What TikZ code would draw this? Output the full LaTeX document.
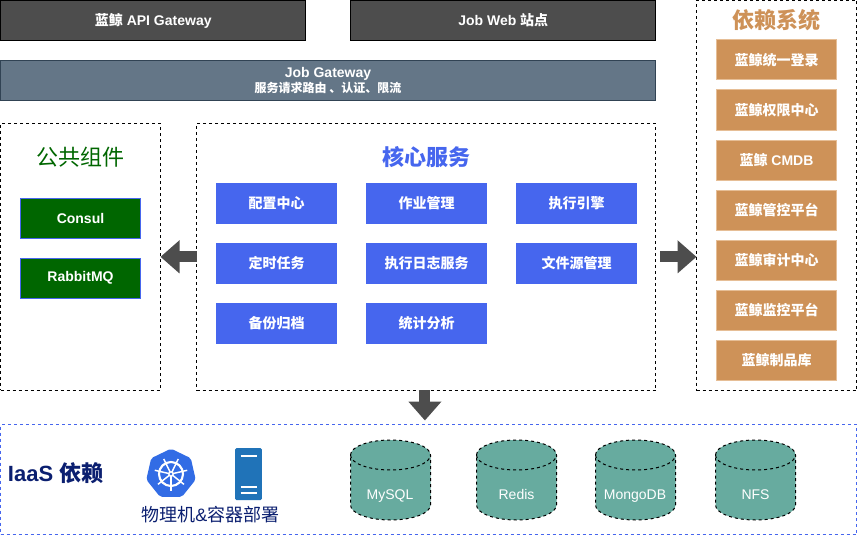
\documentclass[tikz,border=0pt]{standalone}
\usepackage{fontspec}
\setmainfont{Liberation Sans}
\newfontfamily\cjk{Noto Sans CJK SC}
\newcommand{\zh}[1]{{\cjk #1}}
\usetikzlibrary{positioning,shapes.geometric,arrows.meta}
\definecolor{darkbox}{HTML}{4D4D4D}
\definecolor{slatebox}{HTML}{647687}
\definecolor{slateline}{HTML}{314354}
\definecolor{corebox}{HTML}{4666EE}
\definecolor{greenbox}{HTML}{006600}
\definecolor{orangebox}{HTML}{CE9258}
\definecolor{orangeline}{HTML}{E6BE96}
\definecolor{dbbox}{HTML}{67AB9F}
\definecolor{navytext}{HTML}{0B1F70}
\definecolor{k8sblue}{HTML}{326CE5}
\definecolor{serverblue}{HTML}{2073B8}

\begin{document}
\begin{tikzpicture}
[
   x=0.75pt,
   y=-0.75pt,
   outer sep=0pt,
   align=center,
   every node/.style={font=\itemfont}
]
\newcommand{\itemfont}{\bfseries\fontsize{10.5}{12}\selectfont}

\tikzset{gateway/.style = {draw=black, fill=darkbox, text=white, anchor=north west, minimum width=229.1pt, minimum height=30pt, line width=0.75pt}}
\tikzset{group/.style = {draw=black, dash pattern=on 2.25pt off 2.25pt, anchor=north west, line width=0.75pt}}
\tikzset{grouptitle/.style = {font=\bfseries\fontsize{16.5}{18}\selectfont}}
\tikzset{coreitem/.style = {fill=corebox, text=white, minimum width=90.75pt, minimum height=30.75pt}}
\tikzset{commonitem/.style = {draw=corebox, fill=greenbox, text=white, minimum width=90pt, minimum height=30pt, line width=0.75pt}}
\tikzset{depitem/.style = {draw=orangeline, fill=orangebox, text=white, minimum width=90pt, minimum height=30pt, line width=0.75pt}}
\tikzset{dbshape/.pic = {
   \draw[draw=black, dash pattern=on 2.25pt off 2.25pt, fill=dbbox, line width=0.75pt]
      (-40,-25) arc[x radius=30pt, y radius=11.25pt, start angle=180, end angle=0]
      -- (40,25) arc[x radius=30pt, y radius=11.25pt, start angle=0, end angle=-180] -- cycle;
   \draw[draw=black, dash pattern=on 2.25pt off 2.25pt, line width=0.75pt]
      (-40,-25) arc[x radius=30pt, y radius=11.25pt, start angle=180, end angle=360];
}}
\tikzset{dbtext/.style = {text=white, anchor=base, font=\normalfont\fontsize{10.5}{12}\selectfont}}
\tikzset{bigarrow/.style = {draw=darkbox, line width=8.25pt, -{Triangle[length=14.25pt,width=24pt]}}}

\useasboundingbox (0,0) rectangle (857,535);

% nodes
\node[gateway] (apigw) at (0.5,0.5) {\zh{蓝鲸} API Gateway};
\node[gateway] (jobweb) at (350.5,0.5) {Job Web \zh{站点}};
\node[draw=slateline, fill=slatebox, text=white, anchor=north west, minimum width=491.25pt, minimum height=30pt, line width=0.75pt, inner sep=0pt] (jobgw) at (0.5,60.5) {Job Gateway\\[-0.5pt]{\fontsize{9}{10}\selectfont\zh{服务请求路由 、认证、限流}}};

\node[group, minimum width=120pt, minimum height=200pt] (common) at (0.5,123.5) {};
\node[group, minimum width=344.6pt, minimum height=200pt] (core) at (196.5,123.5) {};
\node[group, minimum width=120pt, minimum height=292.5pt] (deps) at (696.5,0.5) {};
\node[group, draw=corebox, minimum width=642pt, minimum height=82.5pt] (iaas) at (0.5,424.5) {};

\node[text=greenbox, font=\mdseries\fontsize{16.5}{18}\selectfont] (commontitle) at (80.5,157) {\zh{公共组件}};
\node[grouptitle, text=corebox] (coretitle) at (426,157) {\zh{核心服务}};
\node[grouptitle, text=orangebox] (depstitle) at (776.5,20) {\zh{依赖系统}};
\node[text=navytext, font=\bfseries\fontsize{16.5}{18}\selectfont, anchor=west] (iaastitle) at (3.5,473) {IaaS \zh{依赖}};

% core services
\node[coreitem] (config) at (276.5,203.5) {\zh{配置中心}};
\node[coreitem] (jobs) [right=21.75pt of config] {\zh{作业管理}};
\node[coreitem] (engine) [right=21.75pt of jobs] {\zh{执行引擎}};
\node[coreitem] (cron) [below=14.25pt of config] {\zh{定时任务}};
\node[coreitem] (logs) [right=21.75pt of cron] {\zh{执行日志服务}};
\node[coreitem] (files) [right=21.75pt of logs] {\zh{文件源管理}};
\node[coreitem] (backup) [below=14.25pt of cron] {\zh{备份归档}};
\node[coreitem] (stats) [right=21.75pt of backup] {\zh{统计分析}};

% common parts
\node[commonitem] (consul) at (80.5,218) {Consul};
\node[commonitem] (rabbit) [below=15pt of consul] {RabbitMQ};

% dependent systems
\node[depitem] (login) at (776.5,60) {\zh{蓝鲸统一登录}};
\node[depitem] (iam) [below=7.5pt of login] {\zh{蓝鲸权限中心}};
\node[depitem] (cmdb) [below=7.5pt of iam] {\zh{蓝鲸} CMDB};
\node[depitem] (gse) [below=7.5pt of cmdb] {\zh{蓝鲸管控平台}};
\node[depitem] (audit) [below=7.5pt of gse] {\zh{蓝鲸审计中心}};
\node[depitem] (monitor) [below=7.5pt of audit] {\zh{蓝鲸监控平台}};
\node[depitem] (artifact) [below=7.5pt of monitor] {\zh{蓝鲸制品库}};

% databases
\pic at (390.5,480) {dbshape};
\pic at (516.5,480) {dbshape};
\pic at (635.5,480) {dbshape};
\pic at (755.5,480) {dbshape};
\node[dbtext] (mysql) at (390,499) {MySQL};
\node[dbtext] (redis) at (516.5,499) {Redis};
\node[dbtext] (mongo) at (635,499) {MongoDB};
\node[dbtext] (nfs) at (755.5,499) {NFS};

% icons
\node[regular polygon, regular polygon sides=7, fill=k8sblue, minimum size=38pt, inner sep=0pt, rounded corners=1.5pt] (k8s) at (171,474) {};
\draw[white, line width=1.6pt] (k8s.center) circle (9pt);
\foreach \a in {90,141.4,...,400}
   \draw[white, line width=1.1pt] (k8s.center) -- ++(\a:-12.5pt);
\fill[white] (k8s.center) circle (2.2pt);
\fill[k8sblue] (k8s.center) circle (1pt);
\node[fill=serverblue, rounded corners=1pt, minimum width=20pt, minimum height=39pt, inner sep=0pt] (server) at (248.5,474) {};
\draw[white, line width=0.8pt] ([xshift=-6pt,yshift=13.5pt]server.center) -- ++(16,0);
\draw[white, line width=0.8pt] ([xshift=-6pt,yshift=-9.75pt]server.center) -- ++(16,0);
\draw[white, line width=0.8pt] ([xshift=-6pt,yshift=-14.25pt]server.center) -- ++(16,0);
\node[text=navytext, font=\mdseries\fontsize{13.5}{15}\selectfont] (deploy) at (210.5,515) {\zh{物理机}\&\zh{容器部署}};

% arcs
\draw[bigarrow] (core.west) -- (common.east);
\draw[bigarrow, shorten <=3pt] (core.east) -- (core.east -| deps.west);
\draw[bigarrow, shorten >=3pt] ([xshift=-1pt]core.south) -- ([xshift=-1pt]core.south |- iaas.north);
\end{tikzpicture}
\end{document}
